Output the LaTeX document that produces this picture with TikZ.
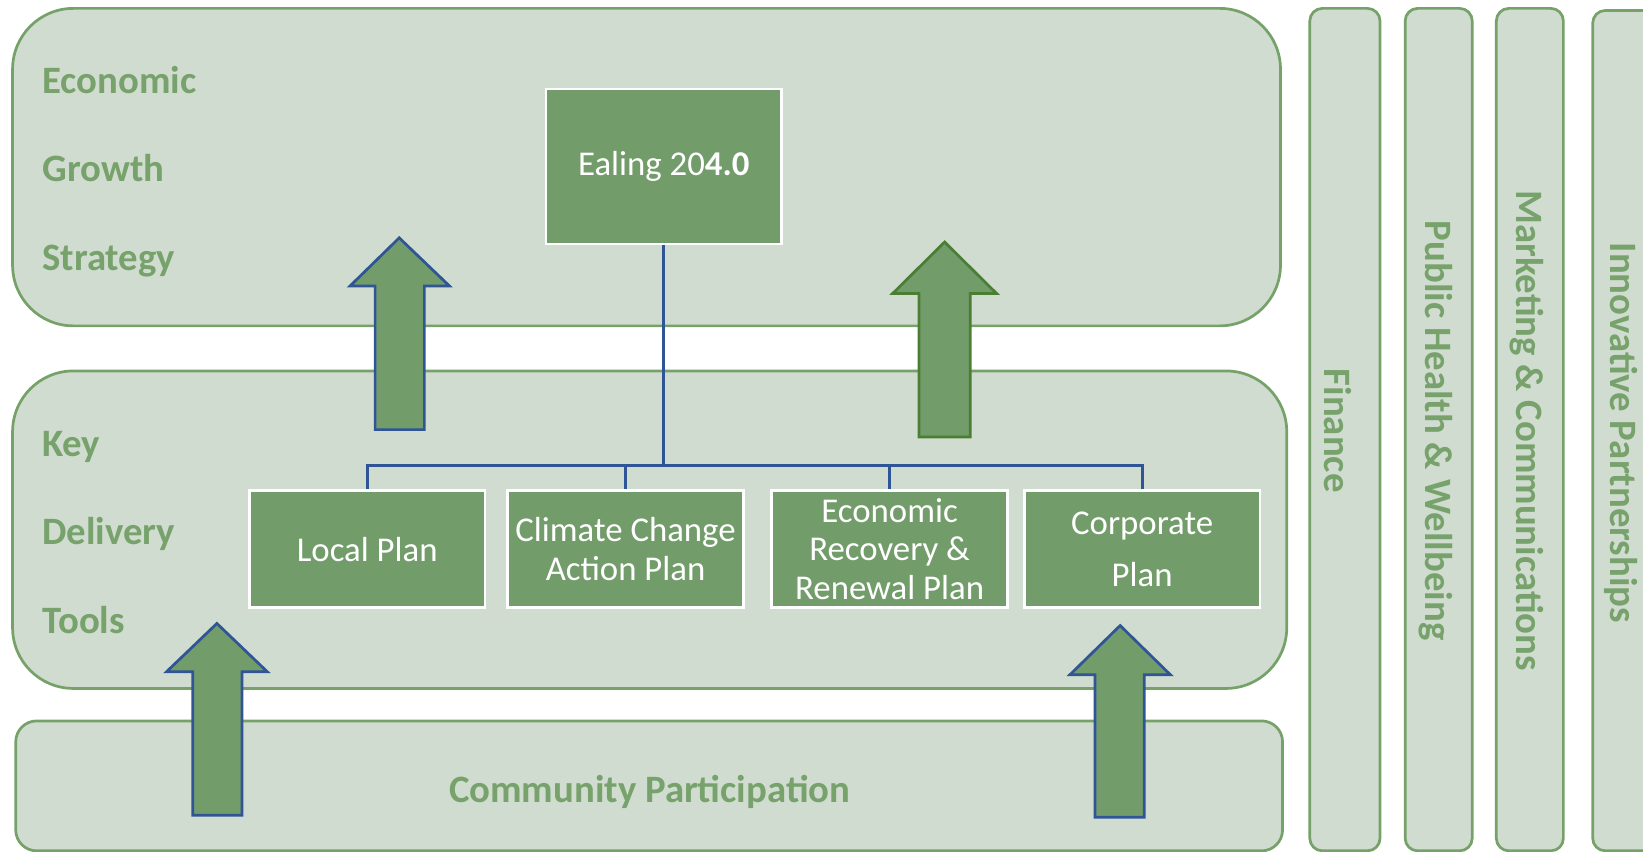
\documentclass[tikz,border=0pt]{standalone}
\usepackage{fontspec}
\setmainfont{Carlito}
\definecolor{panelfill}{HTML}{D0DCCF}
\definecolor{paneledge}{HTML}{76A26A}
\definecolor{boxfill}{HTML}{739C6B}
\definecolor{labelgreen}{HTML}{77A26C}
\definecolor{treeblue}{HTML}{2F5597}
\definecolor{darkgreen}{HTML}{4A7F33}
\begin{document}
\begin{tikzpicture}[x=0.5pt,y=-0.5pt,
  panel/.style={draw=paneledge,fill=panelfill,line width=1.3pt},
  planbox/.style={rectangle,draw=white,line width=1.2pt,fill=boxfill,
    minimum width=112.5pt,minimum height=56pt,inner sep=0pt,text=white,
    align=center,font=\fontsize{16.6}{18.5}\selectfont},
  lbl/.style={inner sep=0pt,text=labelgreen,font=\fontsize{18.5}{22}\selectfont\bfseries},
  tree/.style={draw=treeblue,line width=1.5pt},
  bluearrow/.style={draw=treeblue,fill=boxfill,line width=1.3pt,line join=miter},
  greenarrow/.style={draw=darkgreen,fill=boxfill,line width=1.3pt,line join=miter}]
\useasboundingbox (0,0) rectangle (1568,813);
\clip (0,0) rectangle (1568,813);

% panels
\draw[panel,rounded corners=29pt] (12,8) rectangle (1222,311);
\draw[panel,rounded corners=29pt] (12,354) rectangle (1228,657);
\draw[panel,rounded corners=10pt] (15,688) rectangle (1224,812);

% columns
\draw[panel,rounded corners=6pt] (1250,8) rectangle (1317,812);
\draw[panel,rounded corners=6pt] (1341,8) rectangle (1405,812);
\draw[panel,rounded corners=6pt] (1428,8) rectangle (1492,812);
\draw[panel,rounded corners=6pt] (1520,10) rectangle (1600,812);

\node[lbl,rotate=-90] (fin) at (1277,411) {Finance};
\node[lbl,rotate=-90] (health) at (1370,411) {Public Health \& Wellbeing};
\node[lbl,rotate=-90] (market) at (1457,411) {Marketing \& Communications};
\node[lbl,rotate=-90] (innov) at (1547,413) {Innovative Partnerships};

% left labels
\node[lbl,anchor=base west] (l1) at (40,89) {Economic};
\node[lbl,anchor=base west] (l2) at (40,173) {Growth};
\node[lbl,anchor=base west] (l3) at (40,258) {Strategy};
\node[lbl,anchor=base west] (l4) at (40,436) {Key};
\node[lbl,anchor=base west] (l5) at (40,520) {Delivery};
\node[lbl,anchor=base west] (l6) at (40,605) {Tools};
\node[lbl,anchor=base] (comm) at (620,766) {Community Participation};

% boxes
\node[planbox,minimum height=74pt] (ealing) at (633.5,159) {Ealing 20\textbf{4.0}};
\node[planbox] (local) at (350.5,524) {Local Plan};
\node[planbox] (climate) at (597,524) {Climate Change\\Action Plan};
\node[planbox,font=\fontsize{16.6}{18.25}\selectfont] (econ) at (849,524) {Economic\\Recovery \&\\Renewal Plan};
\node[planbox] (corp) at (1090,524) {Corporate\\[6.5pt]Plan};

% tree
\coordinate (bus) at (633.5,444);
\draw[tree] (ealing.south) -- (bus);
\draw[tree] (local.north) |- (bus) -| (corp.north);
\draw[tree] (climate.north) -- (climate.north |- bus);
\draw[tree] (econ.north) -- (econ.north |- bus);

% block arrows
\draw[bluearrow] (381,227) -- (429,273) -- (405,273) -- (405,410) -- (358,410) -- (358,273) -- (334,273) -- cycle;
\draw[greenarrow] (901.5,231) -- (951,280) -- (926,280) -- (926,417) -- (877,417) -- (877,280) -- (852,280) -- cycle;
\draw[bluearrow] (207,595) -- (255,641) -- (231,641) -- (231,778) -- (184,778) -- (184,641) -- (159,641) -- cycle;
\draw[bluearrow] (1069,597) -- (1117,644) -- (1092,644) -- (1092,780) -- (1045,780) -- (1045,644) -- (1021,644) -- cycle;
\end{tikzpicture}
\end{document}
